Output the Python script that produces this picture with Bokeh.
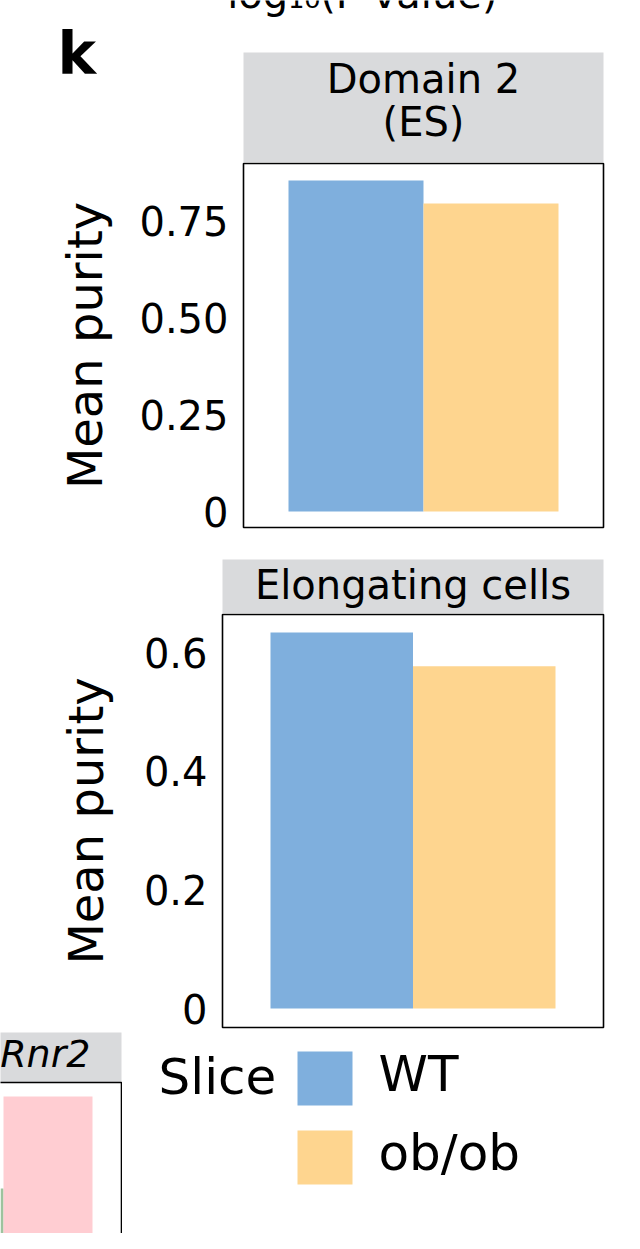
from bokeh.plotting import figure
from bokeh.layouts import column, row
from bokeh.models import Range1d, FixedTicker
from bokeh.core.properties import value
from bokeh.embed import file_html
from bokeh.resources import INLINE

# ---------------- data ----------------
slices = ["WT", "ob/ob"]
slice_colors = ["#7FAFDD", "#FED58F"]

domain2_purity = [0.853, 0.794]          # Domain 2 (ES)
elongating_purity = [0.634, 0.577]       # Elongating cells

domain2_ticks = [0, 0.25, 0.5, 0.75]
domain2_tick_labels = ["0", "0.25", "0.50", "0.75"]
elong_ticks = [0, 0.2, 0.4, 0.6]
elong_tick_labels = ["0", "0.2", "0.4", "0.6"]

strip_domain2 = "Domain 2\n(ES)"
strip_elong = "Elongating cells"
y_title = "Mean purity"
legend_title = "Slice"
panel_tag = "k"
above_text = "\u2212log\u2081\u2080(P value)"

# neighbouring (cropped) panel, bottom-left
rnr2_groups = ["other", "Rnr2"]
rnr2_values = [0.446, 1.0]
rnr2_colors = ["#9DC39D", "#FFCDD2"]
rnr2_strip = "Rnr2"

FONT = "DejaVu Sans"
STRIP = "#D9DADC"
W = 624


def bare(fig):
    fig.outline_line_color = None
    fig.grid.grid_line_color = None
    fig.background_fill_color = "white"
    fig.border_fill_color = "white"
    return fig


def px_fig(x0, x1, y0, y1):
    """Decoration canvas whose data units are page pixels (y grows downward)."""
    f = figure(width=x1 - x0, height=y1 - y0, x_range=Range1d(x0, x1), y_range=Range1d(y1, y0),
               output_backend="svg", toolbar_location=None, title=None,
               x_axis_location=None, y_axis_location=None,
               min_border_left=0, min_border_right=0, min_border_top=0, min_border_bottom=0)
    return bare(f)


def panel_fig(values, ticks, tick_labels, lay):
    top, bottom = lay["fig_top"], lay["fig_bottom"]
    pl, pr, pt, pb = lay["left"], lay["right"], lay["panel_top"], lay["panel_bottom"]
    x0, xs, y0, ys = lay["x0"], lay["xs"], lay["y0"], lay["ys"]
    p = figure(width=W, height=bottom - top,
               x_range=Range1d((pl - x0) / xs, (pr - x0) / xs),
               y_range=Range1d((y0 - pb) / ys, (y0 - pt) / ys),
               output_backend="svg", toolbar_location=None, title=None,
               x_axis_location=None,
               min_border_left=pl, min_border_right=W - pr,
               min_border_top=pt - top, min_border_bottom=bottom - pb)
    bare(p)
    p.outline_line_color = "black"
    p.outline_line_width = 1.6

    centers = [i + 0.5 for i in range(len(slices))]
    p.vbar(x=centers, top=values, bottom=0, width=1.0,
           fill_color=slice_colors, line_color=None)

    ax = p.yaxis[0]
    ax.ticker = FixedTicker(ticks=ticks)
    ax.major_label_overrides = {t: l for t, l in zip(ticks, tick_labels)}
    ax.axis_line_color = None
    ax.major_tick_line_color = None
    ax.minor_tick_line_color = None
    ax.major_tick_out = 0
    ax.major_tick_in = 0
    ax.major_label_standoff = 15
    ax.major_label_text_font = FONT
    ax.major_label_text_font_size = "40px"
    ax.major_label_text_color = "black"
    ax.axis_label = y_title
    ax.axis_label_text_font = FONT
    ax.axis_label_text_font_size = "48px"
    ax.axis_label_text_font_style = "normal"
    ax.axis_label_text_color = "black"
    ax.axis_label_standoff = lay["title_standoff"]
    return p


def txt(fig, x, y, s, size, align="center", **kw):
    fig.text(x=x, y=y, text=s, text_font=value(FONT), text_font_size=size,
             text_align=align, text_baseline="middle", text_color="black", **kw)


# ---- header: panel tag, cropped title above, strip of panel 1 ----
s1 = px_fig(0, W, 0, 162)
txt(s1, [57], [53], [panel_tag], "58px", align="left", text_font_style="bold")
txt(s1, [497], [-7], [above_text], "40px", align="right")
s1.quad(left=[243], right=[603], top=[52], bottom=[163], fill_color=STRIP, line_color=None)
txt(s1, [423], [100], [strip_domain2], "40px", text_line_height=0.92)

lay1 = dict(fig_top=162, fig_bottom=545, left=243, right=603, panel_top=163, panel_bottom=527,
            x0=288, xs=135.0, y0=511, ys=388.0, title_standoff=23)
pA = panel_fig(domain2_purity, domain2_ticks, domain2_tick_labels, lay1)

s2 = px_fig(0, W, 545, 613)
s2.quad(left=[222], right=[603], top=[559], bottom=[614], fill_color=STRIP, line_color=None)
txt(s2, [412.5], [584], [strip_elong], "40px")

lay2 = dict(fig_top=613, fig_bottom=1032, left=222, right=603, panel_top=614, panel_bottom=1027,
            x0=270, xs=142.5, y0=1008, ys=593.0, title_standoff=27)
pB = panel_fig(elongating_purity, elong_ticks, elong_tick_labels, lay2)

# ---- cropped neighbouring panel (bottom-left) ----
cx0, cxs, cy0, cys = -86.0, 89.0, 1262.0, 166.0


def cdx(px):
    return (px - cx0) / cxs


def cdy(py):
    return (cy0 - py) / cys


pC = figure(width=122, height=201, x_range=Range1d(cdx(0), cdx(122)),
            y_range=Range1d(cdy(1233), cdy(1032)), output_backend="svg",
            toolbar_location=None, title=None, x_axis_location=None, y_axis_location=None,
            min_border_left=0, min_border_right=0, min_border_top=0, min_border_bottom=0)
bare(pC)
pC.quad(left=[cdx(-40)], right=[cdx(121)], bottom=[cdy(1082)], top=[cdy(1020)],
        fill_color=STRIP, line_color=None)
txt(pC, [cdx(90)], [cdy(1053)], [rnr2_strip], "38px", align="right", text_font_style="italic")
pC.vbar(x=[i + 0.5 for i in range(len(rnr2_groups))], top=rnr2_values, bottom=0, width=1.0,
        fill_color=rnr2_colors, line_color=None)
pC.quad(left=[cdx(-40)], right=[cdx(121)], bottom=[cdy(1300)], top=[cdy(1082)],
        fill_color=None, line_color="black", line_width=1.6)

# ---- legend ----
pD = px_fig(122, W, 1032, 1233)
txt(pD, [158], [1076], [legend_title], "50px", align="left")
key_tops = [1051 + 79 * i for i in range(len(slices))]
pD.quad(left=[297] * len(slices), right=[352] * len(slices), top=key_tops,
        bottom=[t + 54 for t in key_tops], fill_color=slice_colors, line_color=None)
txt(pD, [378] * len(slices), [t + 22 for t in key_tops], slices, "50px", align="left")

layout = column(row(s1), row(pA), row(s2), row(pB), row(pC, pD))
open("out.html", "w").write(file_html(layout, INLINE, title="Mean purity"))
